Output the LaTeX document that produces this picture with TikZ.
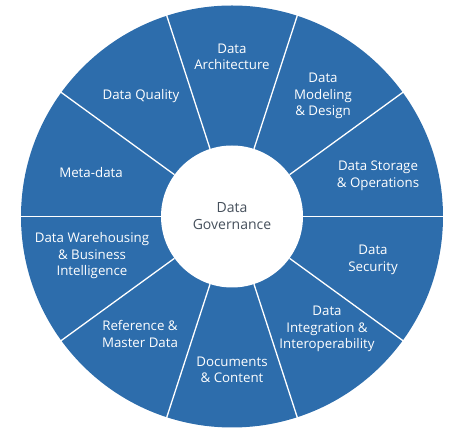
\documentclass[tikz,border=0pt]{standalone}
\usepackage{fontspec}
\setmainfont{Open Sans}
\usepackage{tikz}
\usetikzlibrary{positioning}
\definecolor{wheelblue}{HTML}{2D6DAC}
\definecolor{coretext}{HTML}{46505C}
\tikzset{
  wheel/.style={fill=wheelblue, draw=none},
  seam/.style={draw=white, line width=1.3pt},
  core/.style={circle, fill=white, draw=none, minimum size=142pt, inner sep=0pt,
               align=center, text=coretext, font=\fontsize{14}{17}\selectfont},
  area/.style={align=center, text=white, inner sep=0pt, font=\fontsize{13.3}{16.5}\selectfont}
}
\begin{document}
\begin{tikzpicture}[x=1pt, y=1pt]
 \useasboundingbox (-232,-226.5) rectangle (228,216.5);
 \fill[wheel] (0,0) circle (211);
 \node[core] (core) at (0,0) {Data\\Governance};
 \foreach \a in {0,36,...,324}
   \draw[seam] (core.\a) -- (\a:212pt);
 \node[area] (arch)    at (0,159.5)     {Data\\Architecture};
 \node[area] (model)   at (91,120.5)    {Data\\Modeling\\\& Design};
 \node[area] (store)   at (146,40.5)    {Data Storage\\\& Operations};
 \node[area] (secur)   at (141,-43.5)   {Data\\Security};
 \node[area] (integ)   at (95,-112.5)   {Data\\Integration \&\\Interoperability};
 \node[area] (docs)    at (0,-153.5)    {Documents\\\& Content};
 \node[area] (refdata) at (-92,-117.5)  {Reference \&\\Master Data};
 \node[area] (dwbi)    at (-140,-39.5)  {Data Warehousing\\\& Business\\Intelligence};
 \node[area] (meta)    at (-141,43.5)   {Meta-data};
 \node[area] (quality) at (-91,120.5)   {Data Quality};
\end{tikzpicture}
\end{document}
